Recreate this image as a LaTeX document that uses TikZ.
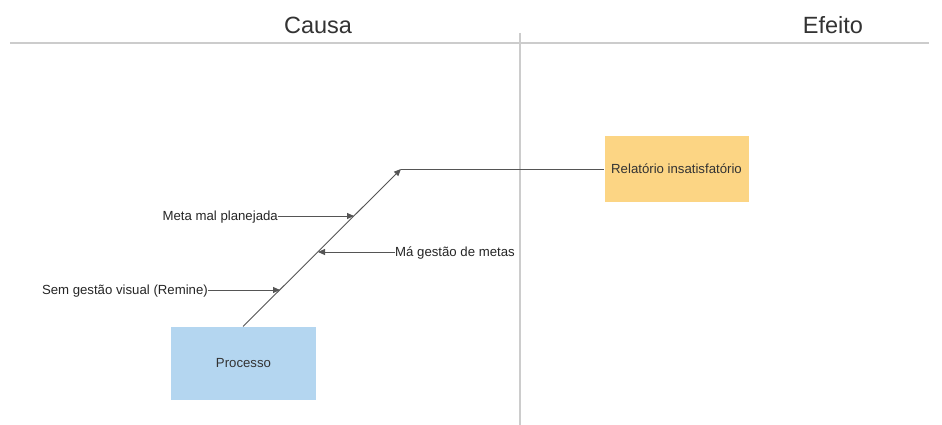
\documentclass[tikz,border=0pt]{standalone}
\usepackage{fontspec}
\setmainfont{Liberation Sans}
\usetikzlibrary{arrows.meta}
\definecolor{sep}{HTML}{CCCCCC}
\definecolor{edge}{HTML}{555555}
\definecolor{txt}{HTML}{333333}
\definecolor{orangebox}{HTML}{FCD584}
\definecolor{bluebox}{HTML}{B4D6F0}
\tikzset{
  title/.style={font=\fontsize{23.5}{26}\selectfont, text=txt, inner sep=0pt},
  boxnode/.style={inner sep=0pt, font=\fontsize{13.2}{15}\selectfont, text=txt},
  lbl/.style={font=\fontsize{13.2}{15}\selectfont, text=black!85, inner sep=0pt},
  conn/.style={draw=edge, line width=0.9pt},
  arr/.style={conn, -{Triangle[length=7pt,width=6pt]}},
  seph/.style={draw=sep, line width=1.6pt}
}
\begin{document}
\begin{tikzpicture}[x=1pt,y=-1pt]
\useasboundingbox (0,0) rectangle (942,425);
\fill[white] (0,0) rectangle (942,425);
% header
\coordinate (hl) at (10,43);
\coordinate (hr) at (929,43);
\coordinate (vt) at (520,33);
\coordinate (vb) at (520,425);
\draw[seph] (hl) -- (hr);
\draw[seph] (vt) -- (vb);
\node[title] (causa) at (318,25) {Causa};
\node[title] (efeito) at (833,25) {Efeito};
% boxes
\node[boxnode, fill=orangebox, minimum width=144pt, minimum height=65pt] (rel) at (676.5,169) {Relatório insatisfatório};
\node[boxnode, fill=bluebox, minimum width=145pt, minimum height=73pt] (proc) at (243.5,363) {Processo};
% spine
\coordinate (ps) at (243,326.5);
\coordinate (corner) at (401,169);
\draw[arr] (ps) -- (corner);
\draw[conn] (corner) -- (rel.west);
% causes
\coordinate (e1) at (354,216);
\node[lbl, anchor=base east] (c1) at (278,220.5) {Meta mal planejada};
\draw[arr] (c1.east |- e1) -- (e1);
\coordinate (e2) at (318,252);
\node[lbl, anchor=base west] (c2) at (395,256.5) {Má gestão de metas};
\draw[arr] (c2.west |- e2) -- (e2);
\coordinate (e3) at (280,290);
\node[lbl, anchor=base east] (c3) at (208,294.5) {Sem gestão visual (Remine)};
\draw[arr] (c3.east |- e3) -- (e3);
\end{tikzpicture}
\end{document}
